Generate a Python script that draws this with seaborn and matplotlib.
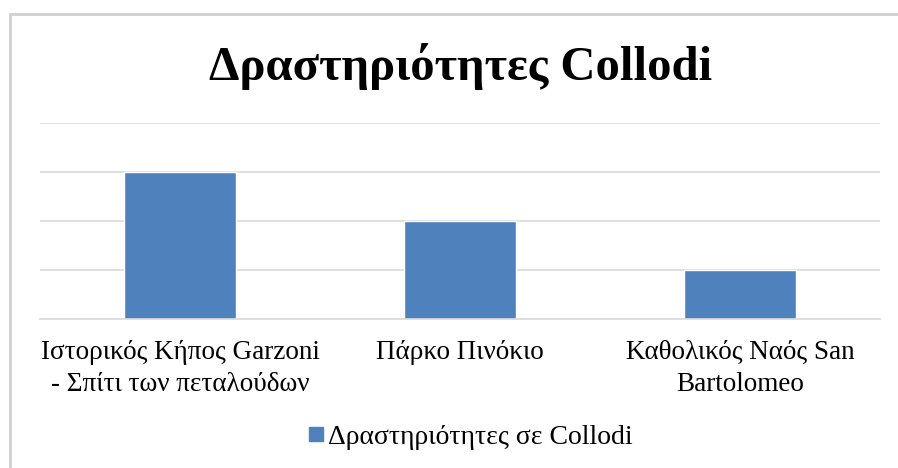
import matplotlib
matplotlib.use("Agg")
import matplotlib.pyplot as plt
import seaborn as sns
import pandas as pd
from matplotlib.patches import Rectangle
from matplotlib.lines import Line2D

# ---- data ----
categories = ["Ιστορικός Κήπος Garzoni\n- Σπίτι των πεταλούδων",
              "Πάρκο Πινόκιο",
              "Καθολικός Ναός San\nBartolomeo"]
values = [3, 2, 1]
series_name = "Δραστηριότητες σε Collodi"
title = "Δραστηριότητες Collodi"

df = pd.DataFrame({"place": categories, "n": values})

sns.set_style("white")
plt.rcParams["font.family"] = ["Liberation Serif", "DejaVu Serif"]
plt.rcParams["text.color"] = "black"
plt.rcParams["xtick.color"] = "black"

BLUE = "#4f81bd"
GRID = "#d9d9d9"

fig = plt.figure(figsize=(8.98, 4.68), dpi=100)
ax = fig.add_axes([40 / 898, 1 - 319 / 468, 840 / 898, 196 / 468])

sns.barplot(data=df, x="place", y="n", color=BLUE, width=0.4,
            saturation=1, ax=ax)

ax.set_ylim(0, 4)
ax.set_yticks([0, 1, 2, 3, 4])
ax.set_yticklabels([])
ax.tick_params(axis="y", length=0)
ax.tick_params(axis="x", length=0, pad=15, labelsize=19.5, labelcolor="black")
ax.yaxis.grid(True, color=GRID, linewidth=1.2)
ax.set_axisbelow(True)
for s in ["top", "right", "left"]:
    ax.spines[s].set_visible(False)
ax.spines["bottom"].set_color(GRID)
ax.spines["bottom"].set_linewidth(1.2)
ax.set_xlabel("")
ax.set_ylabel("")
for lab in ax.get_xticklabels():
    lab.set_multialignment("center")
    lab.set_linespacing(1.4)

fig.text(461 / 898, 1 - 66 / 468, title, ha="center", va="center",
         fontsize=35, fontweight="bold", color="black")

handle = Line2D([], [], marker="s", linestyle="", color=BLUE, markersize=10)
fig.legend([handle], [series_name], loc="center",
           bbox_to_anchor=(466 / 898, 1 - 437 / 468), frameon=False,
           fontsize=20, handletextpad=-0.2, handlelength=1.2, borderpad=0,
           labelcolor="black")

# outer chart frame
fig.add_artist(Rectangle((10 / 898, -0.1), 1.0, 1 - 14 / 468 + 0.1,
                         transform=fig.transFigure, fill=False,
                         edgecolor="#d0d0d0", linewidth=2))

fig.savefig("out.png", dpi=100)
